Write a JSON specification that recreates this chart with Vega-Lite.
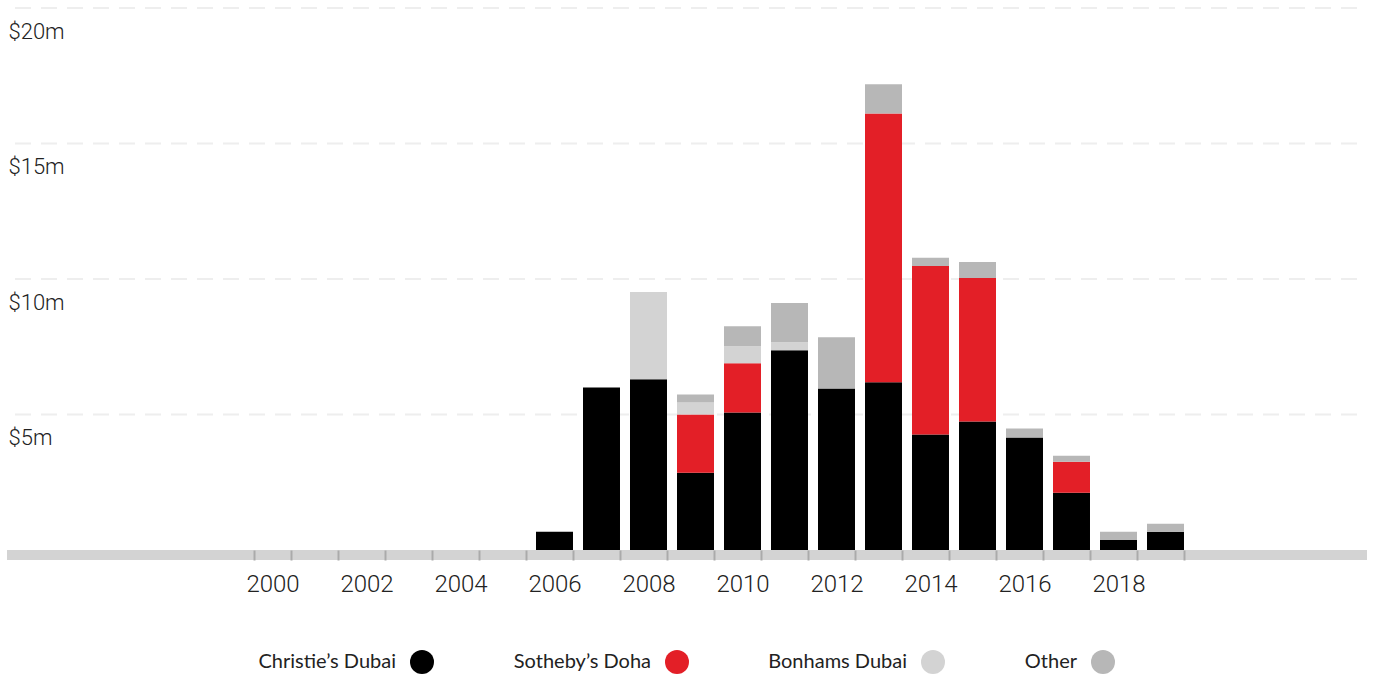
{
  "$schema": "https://vega.github.io/schema/vega-lite/v6.json",
  "width": 1360,
  "height": 542,
  "autosize": {"type": "none"},
  "padding": {"left": 7, "top": 8, "right": 8, "bottom": 128},
  "config": {"view": {"stroke": null}, "font": "Roboto"},
  "datasets": {
    "sales": [
      {"year": 2006, "house": "Christie’s Dubai", "value": 0.67},
      {"year": 2007, "house": "Christie’s Dubai", "value": 6.0},
      {"year": 2008, "house": "Christie’s Dubai", "value": 6.3},
      {"year": 2008, "house": "Bonhams Dubai", "value": 3.22},
      {"year": 2009, "house": "Christie’s Dubai", "value": 2.85},
      {"year": 2009, "house": "Sotheby’s Doha", "value": 2.15},
      {"year": 2009, "house": "Bonhams Dubai", "value": 0.44},
      {"year": 2009, "house": "Other", "value": 0.3},
      {"year": 2010, "house": "Christie’s Dubai", "value": 5.07},
      {"year": 2010, "house": "Sotheby’s Doha", "value": 1.82},
      {"year": 2010, "house": "Bonhams Dubai", "value": 0.63},
      {"year": 2010, "house": "Other", "value": 0.74},
      {"year": 2011, "house": "Christie’s Dubai", "value": 7.37},
      {"year": 2011, "house": "Bonhams Dubai", "value": 0.3},
      {"year": 2011, "house": "Other", "value": 1.44},
      {"year": 2012, "house": "Christie’s Dubai", "value": 5.96},
      {"year": 2012, "house": "Other", "value": 1.89},
      {"year": 2013, "house": "Christie’s Dubai", "value": 6.19},
      {"year": 2013, "house": "Sotheby’s Doha", "value": 9.92},
      {"year": 2013, "house": "Other", "value": 1.08},
      {"year": 2014, "house": "Christie’s Dubai", "value": 4.26},
      {"year": 2014, "house": "Sotheby’s Doha", "value": 6.22},
      {"year": 2014, "house": "Other", "value": 0.3},
      {"year": 2015, "house": "Christie’s Dubai", "value": 4.74},
      {"year": 2015, "house": "Sotheby’s Doha", "value": 5.3},
      {"year": 2015, "house": "Other", "value": 0.59},
      {"year": 2016, "house": "Christie’s Dubai", "value": 4.15},
      {"year": 2016, "house": "Other", "value": 0.33},
      {"year": 2017, "house": "Christie’s Dubai", "value": 2.11},
      {"year": 2017, "house": "Sotheby’s Doha", "value": 1.15},
      {"year": 2017, "house": "Other", "value": 0.22},
      {"year": 2018, "house": "Christie’s Dubai", "value": 0.37},
      {"year": 2018, "house": "Other", "value": 0.3},
      {"year": 2019, "house": "Christie’s Dubai", "value": 0.67},
      {"year": 2019, "house": "Other", "value": 0.3}
    ],
    "grid": [{"v": 5}, {"v": 10}, {"v": 15}, {"v": 20}]
  },
  "layer": [
    {
      "data": {"name": "grid"},
      "mark": {"type": "rule", "color": "#eeeeee", "strokeWidth": 2, "strokeDash": [16, 10], "strokeDashOffset": 16},
      "encoding": {"y": {"field": "v", "type": "quantitative"}}
    },
    {
      "data": {"name": "grid"},
      "mark": {"type": "rule", "color": "#d3d3d3", "strokeWidth": 10},
      "encoding": {"y": {"datum": -0.185, "type": "quantitative"}}
    },
    {
      "data": {"name": "sales"},
      "transform": [
        {"calculate": "indexof(['Christie’s Dubai', 'Sotheby’s Doha', 'Bonhams Dubai', 'Other'], datum.house)", "as": "rank"}
      ],
      "mark": {"type": "bar"},
      "encoding": {
        "x": {
          "field": "year",
          "type": "ordinal",
          "scale": {
            "domain": [2000, 2001, 2002, 2003, 2004, 2005, 2006, 2007, 2008, 2009, 2010, 2011, 2012, 2013, 2014, 2015, 2016, 2017, 2018, 2019],
            "range": [242, 1182],
            "paddingInner": 0.2128,
            "paddingOuter": 0.1064
          },
          "axis": {
            "title": null,
            "domain": false,
            "grid": false,
            "tickBand": "extent",
            "tickColor": "#aaaaaa",
            "tickWidth": 2,
            "tickSize": 10,
            "labelExpr": "datum.value % 2 == 0 ? datum.label : ''",
            "labelFontSize": 24,
            "labelFontWeight": 300,
            "labelPadding": 12,
            "labelAngle": 0,
            "labelColor": "#222222",
            "zindex": 1
          }
        },
        "y": {
          "field": "value",
          "type": "quantitative",
          "stack": "zero",
          "scale": {"domain": [0, 20], "nice": false},
          "axis": {
            "title": null,
            "values": [5, 10, 15, 20],
            "domain": false,
            "ticks": false,
            "grid": false,
            "labelAlign": "left",
            "labelPadding": -1,
            "labelBaseline": "middle",
            "labelOffset": 23,
            "labelExpr": "'$' + datum.value + 'm'",
            "labelFontSize": 22,
            "labelFontWeight": 300,
            "labelColor": "#222222",
            "zindex": 0
          }
        },
        "order": {"field": "rank", "type": "quantitative", "sort": "ascending"},
        "color": {
          "field": "house",
          "type": "nominal",
          "sort": ["Christie’s Dubai", "Sotheby’s Doha", "Bonhams Dubai", "Other"],
          "scale": {
            "domain": ["Christie’s Dubai", "Sotheby’s Doha", "Bonhams Dubai", "Other"],
            "range": ["#000000", "#e31f27", "#d3d3d3", "#b7b7b7"]
          },
          "legend": {
            "title": null,
            "orient": "none",
            "legendX": 403,
            "legendY": 642,
            "direction": "horizontal",
            "symbolType": "circle",
            "symbolSize": 576,
            "symbolStrokeWidth": 0,
            "symbolOpacity": 1,
            "labelFont": "Lato",
            "labelFontSize": 20,
            "labelColor": "#222222",
            "labelAlign": "right",
            "labelOffset": -38,
            "columnPadding": 79
          }
        }
      }
    }
  ]
}
